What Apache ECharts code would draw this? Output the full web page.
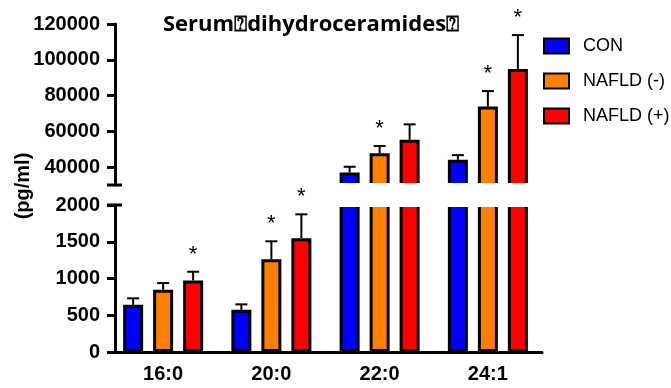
<!DOCTYPE html>
<html>
<head>
<meta charset="utf-8">
<script src="https://cdn.jsdelivr.net/npm/echarts@6/dist/echarts.min.js"></script>
<style>
  html, body { margin: 0; padding: 0; background: #fff; }
  #chart { width: 671px; height: 388px; }
</style>
</head>
<body>
<div id="chart"></div>
<script>
var categories = ['16:0', '20:0', '22:0', '24:1'];
var seriesNames = ['CON', 'NAFLD (-)', 'NAFLD (+)'];
var seriesColors = ['#0000ff', '#ff8000', '#ff0000'];

var conValues = [642, 574, 37000, 44100];
var conErr = [88, 74, 3200, 2600];
var nafldNegValues = [847, 1263, 47800, 73900];
var nafldNegErr = [91, 243, 4000, 8600];
var nafldPosValues = [973, 1549, 55300, 94800];
var nafldPosErr = [119, 324, 8600, 19000];

// significance stars (*)
var conSig = [false, false, false, false];
var nafldNegSig = [false, true, true, true];
var nafldPosSig = [true, true, false, true];

// broken y axis: upper part and lower part
var upperMin = 30000, upperMax = 120000;
var upperTicks = [40000, 60000, 80000, 100000, 120000];
var lowerMin = 0, lowerMax = 2000, lowerInterval = 500;

var values = [conValues, nafldNegValues, nafldPosValues];
var errs = [conErr, nafldNegErr, nafldPosErr];
var sigs = [conSig, nafldNegSig, nafldPosSig];

var barWidth = 20;
var barGapRatio = 0.5;
var barStep = barWidth * (1 + barGapRatio);
var axisFont = 'Liberation Sans';

var chart = echarts.init(document.getElementById('chart'));

function errRender(idx) {
    return function (params, api) {
        var ci = api.value(0);
        var v = api.value(1);
        var e = api.value(2);
        var s = api.value(3);
        var base = api.coord([ci, v]);
        var top = api.coord([ci, v + e]);
        var x = base[0] + (idx - 1) * barStep;
        var children = [
            {type: 'line', shape: {x1: x, y1: base[1], x2: x, y2: top[1]}, style: {stroke: '#000', lineWidth: 2}},
            {type: 'line', shape: {x1: x - 6, y1: top[1], x2: x + 6, y2: top[1]}, style: {stroke: '#000', lineWidth: 2}}
        ];
        if (s) {
            children.push({
                type: 'text',
                x: x, y: top[1] - 6,
                style: {text: '*', fontSize: 22, fontFamily: axisFont, fill: '#000', align: 'center', verticalAlign: 'bottom'}
            });
        }
        return {type: 'group', children: children};
    };
}

var series = [];
for (var i = 0; i < 3; i++) {
    var style = {color: seriesColors[i], borderColor: '#000', borderWidth: 3};
    // upper panel bars
    series.push({
        name: seriesNames[i], type: 'bar', xAxisIndex: 0, yAxisIndex: 0,
        barWidth: barWidth, barGap: (barGapRatio * 100) + '%',
        itemStyle: style, clip: true,
        data: values[i].map(function (v) { return v > upperMin ? v : '-'; })
    });
    // lower panel bars
    series.push({
        name: seriesNames[i], type: 'bar', xAxisIndex: 1, yAxisIndex: 1,
        barWidth: barWidth, barGap: (barGapRatio * 100) + '%',
        itemStyle: style, clip: true,
        data: values[i]
    });
}
for (var j = 0; j < 3; j++) {
    var upData = [], lowData = [];
    for (var k = 0; k < categories.length; k++) {
        var item = [k, values[j][k], errs[j][k], sigs[j][k] ? 1 : 0];
        if (values[j][k] > upperMin) upData.push(item);
        else if (values[j][k] < lowerMax) lowData.push(item);
    }
    series.push({type: 'custom', xAxisIndex: 0, yAxisIndex: 0, renderItem: errRender(j), data: upData, z: 60});
    series.push({type: 'custom', xAxisIndex: 1, yAxisIndex: 1, renderItem: errRender(j), data: lowData, z: 60});
}

var yCommon = {
    type: 'value',
    offset: -6,
    splitLine: {show: false},
    axisLine: {show: true, lineStyle: {color: '#000', width: 3}},
    axisTick: {show: true, length: 8, lineStyle: {color: '#000', width: 3}},
    axisLabel: {
        color: '#000', fontSize: 20, fontWeight: 'bold', fontFamily: axisFont, margin: 15,
        formatter: function (v) { return String(v); }
    }
};

var option = {
    animation: false,
    title: {
        text: 'Serum\u2370dihydroceramides\u2370',
        left: 158, top: 9,
        textStyle: {fontSize: 22, fontWeight: 'bold', fontFamily: 'Open Sans', color: '#000'}
    },
    legend: {
        orient: 'vertical',
        left: 543, top: 37, padding: 0,
        data: seriesNames,
        icon: 'rect',
        itemWidth: 25, itemHeight: 15, itemGap: 17,
        textStyle: {fontSize: 18, fontFamily: axisFont, color: '#000', padding: [0, 0, 0, 9]}
    },
    grid: [
        {left: 109, right: 129, top: 24, height: 161},
        {left: 109, right: 129, top: 205, height: 147}
    ],
    xAxis: [
        {type: 'category', gridIndex: 0, data: categories, show: false},
        {
            type: 'category', gridIndex: 1, data: categories,
            axisLine: {lineStyle: {color: '#000', width: 3}},
            axisTick: {alignWithLabel: true, length: 8, lineStyle: {color: '#000', width: 3}},
            axisLabel: {color: '#000', fontSize: 20, fontWeight: 'bold', fontFamily: axisFont, margin: 12}
        }
    ],
    yAxis: [
        echarts.util.merge({
            gridIndex: 0, min: upperMin, max: upperMax,
            axisTick: {customValues: upperTicks},
            axisLabel: {customValues: upperTicks}
        }, yCommon),
        echarts.util.merge({
            gridIndex: 1, min: lowerMin, max: lowerMax, interval: lowerInterval
        }, yCommon)
    ],
    series: series
};

chart.setOption(option);

// break between the two panels
var yBreakTop = chart.convertToPixel({yAxisIndex: 0}, upperMin);
var yBreakBottom = chart.convertToPixel({yAxisIndex: 1}, lowerMax);
var axisX = 115;
chart.setOption({
    graphic: [
        {type: 'rect', z: 50, shape: {x: axisX + 2, y: yBreakTop - 2, width: 430, height: yBreakBottom - yBreakTop + 4}, style: {fill: '#fff'}},
        {type: 'line', z: 51, shape: {x1: axisX - 8, y1: yBreakTop, x2: axisX + 7, y2: yBreakTop}, style: {stroke: '#000', lineWidth: 3}},
        {type: 'line', z: 51, shape: {x1: axisX - 8, y1: yBreakBottom, x2: axisX + 7, y2: yBreakBottom}, style: {stroke: '#000', lineWidth: 3}},
        {
            type: 'text', z: 51, x: 23, y: 186, rotation: Math.PI / 2,
            style: {text: '(pg/ml)', fontSize: 20, fontWeight: 'bold', fontFamily: axisFont, fill: '#000', align: 'center', verticalAlign: 'middle'}
        }
    ]
});
</script>
</body>
</html>
